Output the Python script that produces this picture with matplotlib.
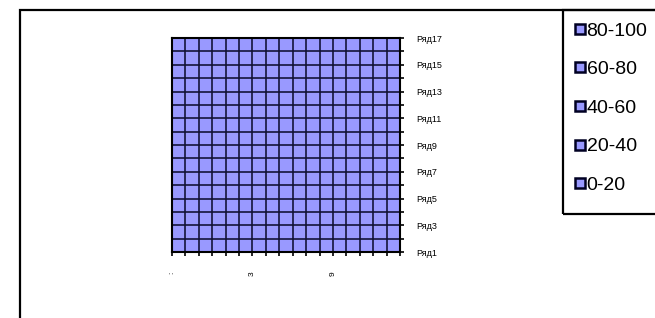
import matplotlib
matplotlib.use("Agg")
import matplotlib.pyplot as plt
from matplotlib.lines import Line2D
from matplotlib.patches import Rectangle

plt.rcParams['font.family'] = ['Liberation Sans', 'DejaVu Sans']

# категории и серии
n_cols = 18
x_labels = [':', '', '', '', '', '', '3', '', '', '', '', '', '9', '', '', '', '', '']
series = ['Ряд%d' % (i + 1) for i in range(17)]
# значения поверхности (все в одном диапазоне 0-20)
values = [[10] * n_cols for _ in range(17)]
bands = [0, 20, 40, 60, 80, 100]
band_labels = ['0-20', '20-40', '40-60', '60-80', '80-100']
band_colors = ['#9999FF', '#9999FF', '#9999FF', '#9999FF', '#9999FF']

fig = plt.figure(figsize=(6.55, 3.18), dpi=100)
ax = fig.add_axes([0.2626, 0.2075, 0.3481, 0.673])

xs = list(range(n_cols))
ys = list(range(len(series)))
ax.contourf(xs, ys, values, levels=bands, colors=band_colors)

ax.set_xlim(0, n_cols - 1)
ax.set_ylim(0, len(series) - 1)
ax.set_xticks(xs)
ax.set_xticklabels(x_labels, rotation=90, fontsize=6)
ax.set_yticks(ys)
ax.set_yticklabels([s if i % 2 == 0 else '' for i, s in enumerate(series)], fontsize=6.5)
ax.yaxis.tick_right()
ax.tick_params(axis='y', length=3, width=1.2, pad=9, color='black')
ax.tick_params(axis='x', length=3, width=1.2, pad=11, color='black')
ax.grid(True, color='#101035', linewidth=1.3, alpha=0.9)
for sp in ax.spines.values():
    sp.set_linewidth(1.5)
    sp.set_color('black')

# рамка диаграммы
fig.patches.append(Rectangle((20 / 655, -0.1), 1.2, 1 - 10 / 318 + 0.1,
                             transform=fig.transFigure, fill=False,
                             edgecolor='black', linewidth=1.6))
# рамка легенды
fig.patches.append(Rectangle((563 / 655, 1 - 214 / 318), 0.3, 204 / 318,
                             transform=fig.transFigure, fill=False,
                             edgecolor='black', linewidth=1.6))

handles = [Line2D([], [], linestyle='none', marker='s', markersize=7,
                  markerfacecolor=c, markeredgecolor='#000022', markeredgewidth=1.8)
           for c in band_colors][::-1]
leg = fig.legend(handles, band_labels[::-1], loc='upper left',
                 bbox_to_anchor=(573 / 655, 1 - 20 / 318), fontsize=14,
                 frameon=False, borderaxespad=0,
                 handlelength=0.55, handletextpad=0.05, labelspacing=1.08,
                 borderpad=0.1)

fig.savefig('out.png', dpi=100)
